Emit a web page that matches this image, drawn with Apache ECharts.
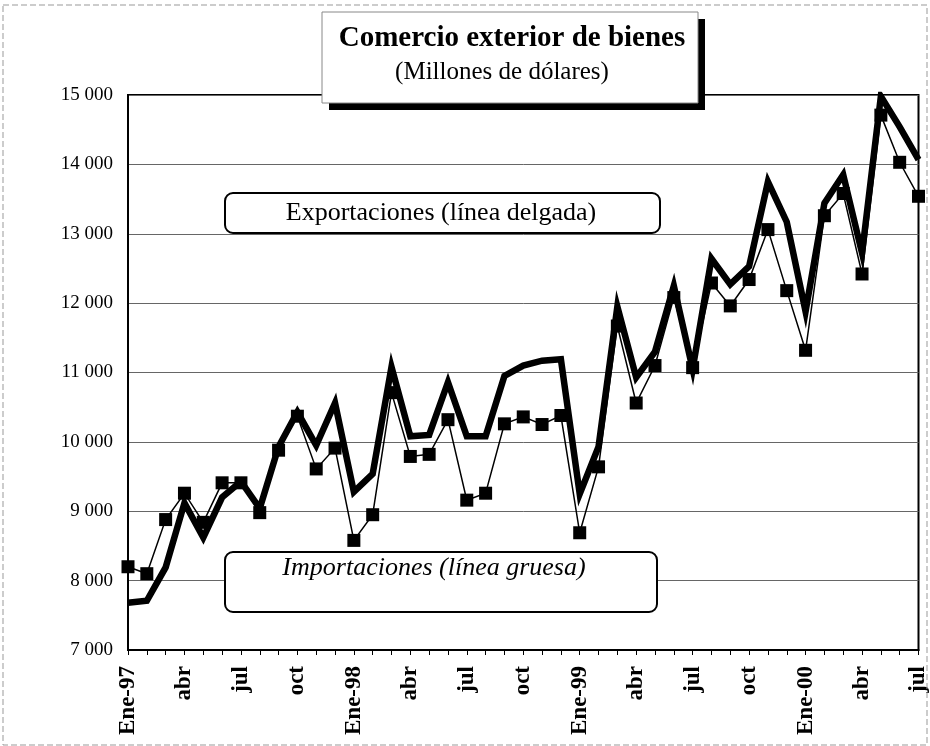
<!DOCTYPE html>
<html>
<head>
<meta charset="utf-8">
<title>Comercio exterior de bienes</title>
<script src="https://cdn.jsdelivr.net/npm/echarts@6/dist/echarts.min.js"></script>
<style>
  html, body { margin: 0; padding: 0; background: #fff; }
  #chart { width: 930px; height: 746px; }
</style>
</head>
<body>
<div id="chart"></div>
<script>
// monthly, Ene-97 .. jul-00
const months = ['ene', 'feb', 'mar', 'abr', 'may', 'jun', 'jul', 'ago', 'sep', 'oct', 'nov', 'dic']
const years = ['97', '98', '99', '00']

// thin line with square markers
const exportaciones = [
  8200, 8100, 8880, 9260, 8840, 9410, 9410, 8980, 9880, 10370, 9610, 9910,
  8580, 8950, 10710, 9790, 9820, 10320, 9160, 9260, 10260, 10360, 10250, 10380,
  8690, 9640, 11670, 10560, 11100, 12080, 11070, 12290, 11960, 12340, 13060, 12180,
  11320, 13260, 13580, 12420, 14710, 14030, 13540
]

// thick line
const importaciones = [
  7680, 7710, 8190, 9120, 8620, 9200, 9430, 9040, 9930, 10430, 9950, 10560,
  9280, 9540, 11080, 10080, 10100, 10860, 10080, 10080, 10950, 11100, 11170, 11190,
  9250, 9930, 11950, 10930, 11300, 12250, 11050, 12640, 12270, 12530, 13750, 13170,
  11880, 13440, 13850, 12720, 14980, 14540, 14070
]

const categories = []
for (let i = 0; i < exportaciones.length; i++) {
  const m = i % 12
  const y = years[Math.floor(i / 12)]
  categories.push(m === 0 ? 'Ene-' + y : months[m])
}

const serif = '"Liberation Serif", "DejaVu Serif", serif'

const chart = echarts.init(document.getElementById('chart'), null, { renderer: 'canvas' })

chart.setOption({
  animation: false,
  backgroundColor: '#fff',
  grid: {
    left: 128,
    right: 8,
    top: 95,
    bottom: 96,
    show: true,
    borderColor: '#000',
    borderWidth: 2
  },
  xAxis: {
    type: 'category',
    data: categories,
    boundaryGap: false,
    axisLine: { lineStyle: { color: '#000', width: 2 } },
    axisTick: { interval: 0, length: 5, lineStyle: { color: '#000' } },
    axisLabel: {
      interval: 2,
      rotate: 90,
      margin: 16,
      color: '#000',
      fontFamily: serif,
      fontWeight: 'bold',
      fontSize: 23
    },
    splitLine: { show: false }
  },
  yAxis: {
    type: 'value',
    min: 7000,
    max: 15000,
    interval: 1000,
    axisLine: { show: true, lineStyle: { color: '#000', width: 2 } },
    axisTick: { show: false },
    axisLabel: {
      margin: 15,
      color: '#000',
      fontFamily: serif,
      fontSize: 19,
      formatter: v => String(v).replace(/\B(?=(\d{3})+(?!\d))/g, ' ')
    },
    splitLine: { lineStyle: { color: '#666', width: 1 } }
  },
  series: [
    {
      name: 'Importaciones',
      type: 'line',
      data: importaciones,
      showSymbol: false,
      symbol: 'none',
      lineStyle: { color: '#000', width: 6.5, join: 'miter', miterLimit: 6 },
      z: 2
    },
    {
      name: 'Exportaciones',
      type: 'line',
      data: exportaciones,
      symbol: 'rect',
      symbolSize: 13,
      showAllSymbol: true,
      itemStyle: { color: '#000' },
      lineStyle: { color: '#000', width: 1.5, join: 'miter' },
      z: 3
    }
  ],
  graphic: [
    // thin frame round the whole picture
    {
      type: 'rect',
      shape: { x: 3, y: 5, width: 924, height: 740 },
      style: { fill: null, stroke: '#999', lineWidth: 1, lineDash: [6, 3] },
      z: 1
    },
    // title box with heavy shadow
    {
      type: 'rect',
      shape: { x: 329, y: 19, width: 376, height: 91 },
      style: { fill: '#000' },
      z: 10
    },
    {
      type: 'rect',
      shape: { x: 322, y: 12, width: 376, height: 91 },
      style: { fill: '#fff', stroke: '#888', lineWidth: 1 },
      z: 11
    },
    {
      type: 'text',
      x: 512, y: 39,
      style: {
        text: 'Comercio exterior de bienes',
        fill: '#000',
        font: 'bold 29px ' + serif,
        align: 'center',
        verticalAlign: 'middle'
      },
      z: 12
    },
    {
      type: 'text',
      x: 502, y: 72,
      style: {
        text: '(Millones de dólares)',
        fill: '#000',
        font: '25px ' + serif,
        align: 'center',
        verticalAlign: 'middle'
      },
      z: 12
    },
    // labels for the two lines
    {
      type: 'rect',
      shape: { x: 225, y: 193, width: 435, height: 40, r: 8 },
      style: { fill: '#fff', stroke: '#000', lineWidth: 2 },
      z: 10
    },
    {
      type: 'text',
      x: 441, y: 213,
      style: {
        text: 'Exportaciones (línea delgada)',
        fill: '#000',
        font: '26px ' + serif,
        align: 'center',
        verticalAlign: 'middle'
      },
      z: 11
    },
    {
      type: 'rect',
      shape: { x: 225, y: 552, width: 432, height: 60, r: 8 },
      style: { fill: '#fff', stroke: '#000', lineWidth: 2 },
      z: 10
    },
    {
      type: 'text',
      x: 434, y: 568,
      style: {
        text: 'Importaciones (línea gruesa)',
        fill: '#000',
        font: 'italic 26px ' + serif,
        align: 'center',
        verticalAlign: 'middle'
      },
      z: 11
    }
  ]
})
</script>
</body>
</html>
